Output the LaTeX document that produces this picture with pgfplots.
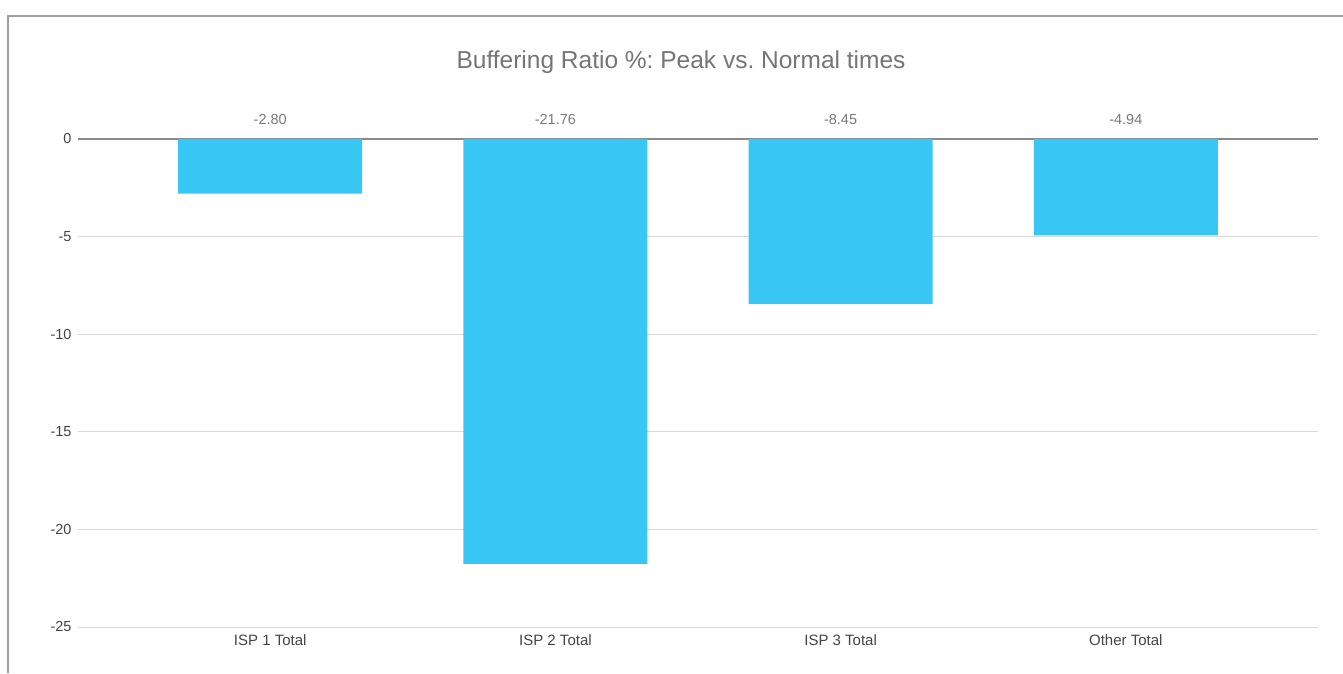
\documentclass[border=0pt]{standalone}
\usepackage{fontspec}
\setmainfont{Liberation Sans}
\usepackage{pgfplots}
\pgfplotsset{compat=1.18}
\usepackage{pgfplotstable}
\definecolor{barc}{HTML}{38C6F4}
\definecolor{framec}{HTML}{9E9E9E}
\definecolor{titlec}{HTML}{757575}
\definecolor{gridc}{HTML}{D9D9D9}
\definecolor{zeroc}{HTML}{8A8A8A}
\definecolor{tickc}{HTML}{444444}
\definecolor{labc}{HTML}{7A7A7A}
\pgfplotstableread{
x y
0 -2.80
1 -21.76
2 -8.45
3 -4.94
}\data
\frenchspacing
\begin{document}
\begin{tikzpicture}
\useasboundingbox (0pt,0pt) rectangle (1343pt,673pt);
\draw[color=framec, line width=1.3pt] (8pt,0pt) -- (8pt,657pt) -- (1343pt,657pt);
\node[text=titlec, font=\fontsize{24.5}{28}\selectfont] at (681pt,611pt) {Buffering Ratio \%: Peak vs. Normal times};
\begin{axis}[
  at={(78pt,46pt)}, anchor=south west,
  width=1240pt, height=488pt, scale only axis,
  xmin=-0.674, xmax=3.674, ymin=-25, ymax=0,
  axis line style={draw=none},
  tick style={draw=none}, major tick length=0pt,
  xtick={0,1,2,3},
  xticklabels={ISP 1 Total, ISP 2 Total, ISP 3 Total, Other Total},
  ytick={-25,-20,-15,-10,-5},
  extra y ticks={0},
  extra y tick style={grid style={color=zeroc, line width=1.6pt}},
  ymajorgrids,
  grid style={color=gridc, line width=0.9pt},
  /pgf/number format/assume math mode=true,
  yticklabel style={text=tickc, font=\fontsize{14.5}{16}\selectfont, xshift=-3pt},
  xticklabel style={text=tickc, font=\fontsize{15}{17}\selectfont, yshift=-4pt},
  clip=false,
]
\addplot[ybar, bar width=184pt, bar shift=0pt, fill=barc, draw=none] table[x=x, y=y] {\data};
\addplot[draw=none, mark=none, nodes near coords,
  point meta={\thisrow{y}},
  nodes near coords={\pgfmathprintnumber[fixed, fixed zerofill, precision=2, assume math mode=true]{\pgfplotspointmeta}},
  every node near coord/.append style={anchor=south, yshift=11pt, text=labc, font=\fontsize{14.5}{16}\selectfont}
] table[x=x, y expr=0] {\data};
\end{axis}
\end{tikzpicture}
\end{document}
